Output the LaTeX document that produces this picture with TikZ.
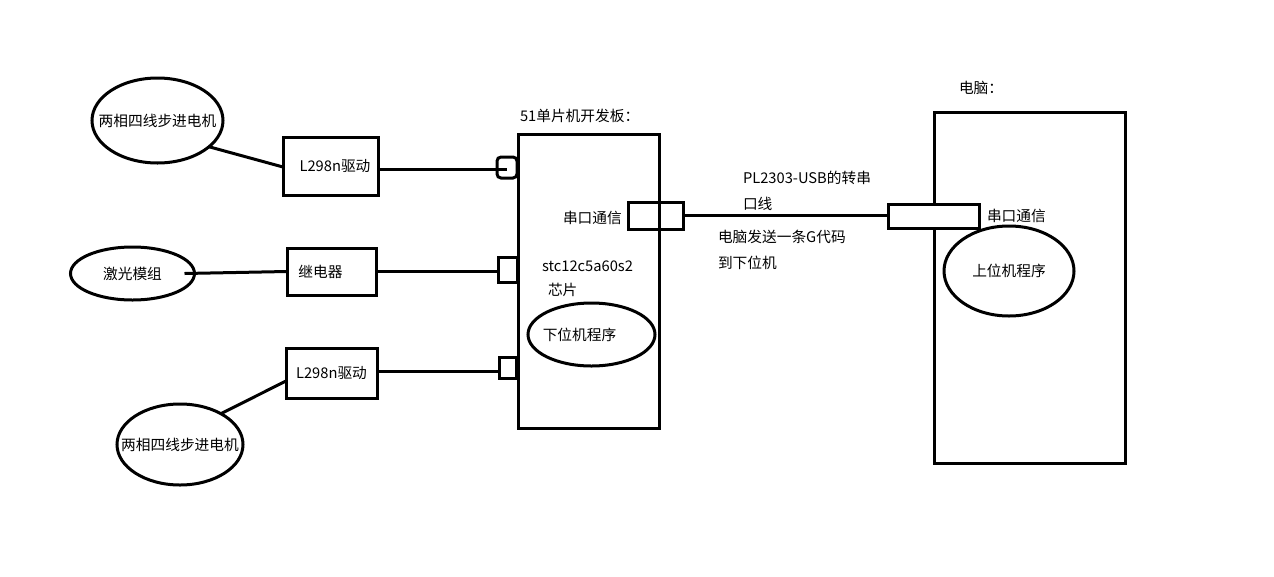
\documentclass[tikz,border=0pt]{standalone}
\usepackage{fontspec}
\setmainfont{Noto Sans CJK SC}
\usetikzlibrary{shapes.geometric}
\begin{document}
\begin{tikzpicture}[x=1pt,y=-1pt,line width=3pt,
  every node/.style={font=\fontsize{14.7}{26}\selectfont, inner sep=0pt, outer sep=0pt},
  sz/.style 2 args={minimum width=#1pt, minimum height=#2pt},
  blk/.style={draw, rectangle},
  ell/.style={draw, ellipse},
  txt/.style={anchor=west, align=left}]
\path[use as bounding box] (0,0) rectangle (1274,576);

% units
\node[ell, sz={131}{85}] (m1) at (157.5,120.5) {\makebox[0pt]{两相四线步进电机}};
\node[ell, sz={124}{53}] (laser) at (132.5,273.5) {\makebox[0pt]{激光模组}};
\node[ell, sz={126}{81}] (m2) at (180,444.5) {\makebox[0pt]{两相四线步进电机}};

\node[blk, sz={95}{58}] (l1) at (330.5,166) {\hspace*{9pt}L298n驱动};
\node[blk, sz={89}{47}] (relay) at (331.5,271.5) {继电器\hspace*{22pt}};
\node[blk, sz={91}{50}] (l2) at (331.5,373) {L298n驱动};

% board
\node[blk, sz={141}{294}] (board) at (588.5,281) {};
\node[draw, rectangle, rounded corners=4pt, sz={20}{21}] (c1) at (507,167.5) {};
\node[blk, sz={19}{25}] (c2) at (507.5,269.5) {};
\node[blk, sz={17}{21}] (c3) at (507.5,367.5) {};
\node[blk, sz={55}{27}] (s1) at (655.5,215.5) {};
\node[ell, sz={127}{63}] (p1) at (591.5,334.5) {\makebox[0pt]{下位机程序\hspace*{24pt}}};

% computer
\node[blk, sz={191}{351}] (pc) at (1029.5,287.5) {};
\node[blk, fill=white, sz={91}{24}] (s2) at (933.5,216) {};
\node[ell, sz={130}{90}] (p2) at (1009,271) {\makebox[0pt]{上位机程序}};

% texts
\node[txt] (t51) at (520,116) {51单片机开发板：};
\node[txt] (tpc) at (959,88) {电脑：};
\node[txt] (tcom1) at (563,218) {串口通信};
\node[txt] (tstc) at (542,266) {stc12c5a60s2};
\node[txt] (tchip) at (548,290) {芯片};
\node[txt] (tcom2) at (987,216) {串口通信};
\node[txt] (tpl) at (743,191) {PL2303-USB的转串\\口线};
\node[txt] (tg) at (718,250) {电脑发送一条G代码\\到下位机};

% connectors
\draw (m1.-27) -- ([yshift=-1pt]l1.west);
\draw ([yshift=-3pt]l1.east) -- ([yshift=-3pt]l1.east -| c1.center);
\draw ([xshift=-10pt]laser.east) -- (relay.west);
\draw (relay.east) -- (relay.east -| c2.west);
\draw ([yshift=2pt]l2.east) -- ([yshift=2pt]l2.east -| c3.west);
\draw ([yshift=-8pt]l2.west) -- (m2.37);
\draw (s1.east) -- (s1.east -| s2.west);
\end{tikzpicture}
\end{document}
